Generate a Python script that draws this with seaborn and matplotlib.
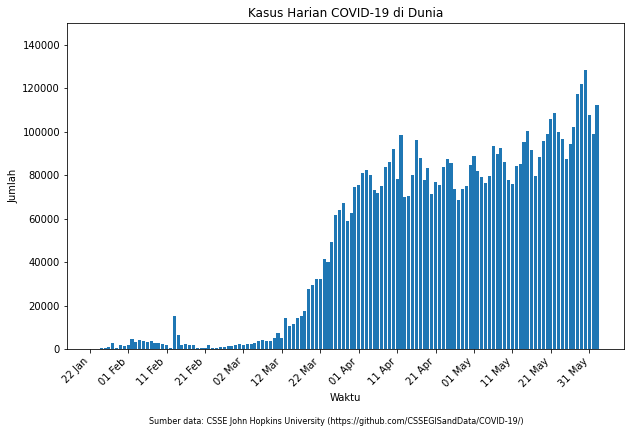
import matplotlib
matplotlib.use("Agg")
import matplotlib.pyplot as plt
import matplotlib.dates as mdates
import pandas as pd
import seaborn as sns

# data kasus harian, 23 Jan - 2 Jun 2020
tanggal = pd.date_range("2020-01-23", "2020-06-02", freq="D")
kasus = [
    100, 290, 500, 680, 900, 2700, 600, 2000, 1600, 2100,
    4700, 3300, 4200, 3800, 3300, 3700, 2800, 2900, 2500, 2000,
    500, 15200, 6600, 2000, 2300, 1900, 1900, 500, 550, 600,
    1850, 450, 550, 900, 950, 1400, 1400, 1900, 2350, 1900,
    2350, 2300, 2800, 3700, 4150, 3700, 3700, 5100, 7400, 5100,
    14300, 10600, 11500, 14300, 15200, 17500, 27600, 29500, 32200, 32300,
    41400, 40100, 49300, 61700, 64000, 67200, 59000, 62700, 74600, 75600,
    81100, 82500, 80200, 73300, 71900, 75100, 83900, 86200, 92200, 78300,
    98600, 70000, 70500, 80200, 96300, 88000, 77900, 83400, 71400, 77000,
    75600, 83900, 87500, 85700, 73700, 68700, 73700, 75100, 84800, 88900,
    82000, 79300, 76500, 79700, 93500, 89900, 92600, 86200, 77900, 76000,
    84300, 85200, 95400, 100500, 91700, 79700, 88500, 95900, 99100, 106000,
    108800, 100000, 96800, 87600, 94500, 102300, 117500, 122100, 128600, 107800,
    99100, 112400,
]
tick_tanggal = pd.date_range("2020-01-22", periods=14, freq="10D")
y_ticks = list(range(0, 140001, 20000))

df = pd.DataFrame({"Waktu": mdates.date2num(tanggal), "Jumlah": kasus})

fig = plt.figure(figsize=(631 / 72, 434 / 72), dpi=72)
ax = fig.add_subplot(111)
fig.subplots_adjust(left=0.1062, right=0.9894, bottom=0.1951, top=0.947)

sns.barplot(data=df, x="Waktu", y="Jumlah", native_scale=True,
            color="#1f77b4", saturation=1, linewidth=0, ax=ax)

x0 = mdates.date2num(pd.Timestamp("2020-01-22"))
ax.set_xlim(x0 - 5.9, x0 + 139.1)
ax.set_ylim(0, 150000)
ax.set_xticks(mdates.date2num(tick_tanggal))
ax.xaxis.set_major_formatter(mdates.DateFormatter("%d %b"))
ax.set_yticks(y_ticks)
ax.set_yticklabels([str(v) for v in y_ticks])
ax.tick_params(labelsize=10)
plt.setp(ax.get_xticklabels(), rotation=45, ha="right")

ax.set_title("Kasus Harian COVID-19 di Dunia", fontsize=12)
ax.set_xlabel("Waktu", fontsize=10)
ax.set_ylabel("Jumlah", fontsize=10)

fig.text(0.533, 0.028,
         "Sumber data: CSSE John Hopkins University (https://github.com/CSSEGISandData/COVID-19/)",
         ha="center", va="center", fontsize=8)

fig.savefig("out.png", dpi=72)
